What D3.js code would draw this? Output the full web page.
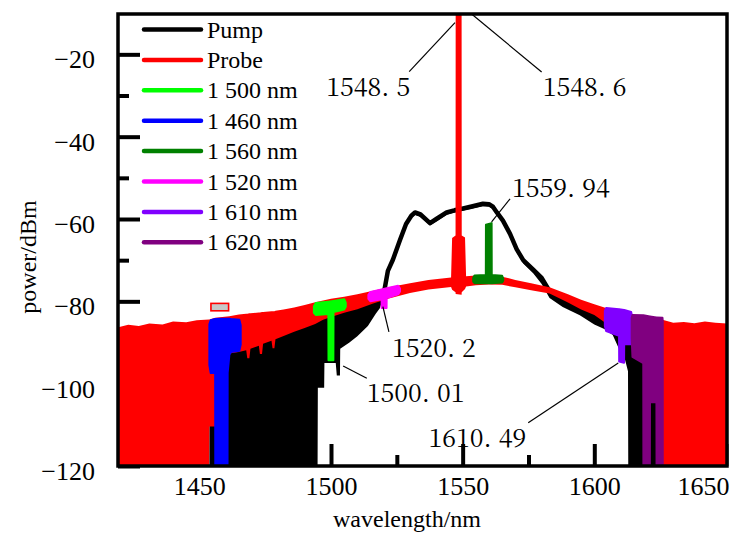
<!DOCTYPE html>
<html>
<head>
<meta charset="utf-8">
<script src="https://cdn.jsdelivr.net/npm/d3@7"></script>
<style>
    body { margin: 0; background: #fff; }
</style>
</head>
<body>
<div id="chart"></div>
<script>
// values: wavelength (nm) / power (dBm)
// each trace is a noisy band, kept as an upper and lower envelope

const pumpWl = [1453.8, 1461.0, 1461.4, 1465, 1470, 1475, 1480.6, 1486, 1490, 1494.9, 1495.0, 1497.4, 1497.5, 1501.8, 1502.2, 1503.4, 1503.5, 1507, 1510, 1514, 1517, 1518.6, 1520.3, 1521.6, 1523.5, 1526.2, 1528.5, 1530.5, 1531.9, 1534, 1537.6, 1540, 1543.9, 1546.8, 1547.3, 1549, 1553, 1557.7, 1560, 1561.5, 1563, 1565.3, 1568, 1570.5, 1573, 1576.8, 1580, 1583, 1588, 1594.5, 1600, 1604, 1607, 1609.7, 1611.6, 1612.8, 1612.9, 1626.0];
const pumpHi = [-102.7, -94.0, -92.0, -91.2, -90.2, -89.2, -87.8, -86.4, -85.4, -84.2, -84.1, -83.6, -83.6, -82.8, -82.7, -82.5, -82.5, -81.8, -81.3, -80.6, -80.2, -79.8, -77.2, -72.6, -69.9, -65.1, -61.2, -59.2, -58.4, -58.9, -61.0, -60.0, -58.4, -57.9, -57.8, -57.6, -57.0, -56.3, -56.4, -57.0, -58.4, -60.4, -63.6, -67.3, -70.0, -72.3, -74.3, -77.5, -79.0, -80.8, -82.2, -83.4, -84.2, -85.0, -86.0, -86.5, -86.5, -87.0];
const pumpLo = [-120, -120, -120, -120, -120, -120, -120, -120, -120, -120, -101, -101, -95, -95, -98, -98, -91.5, -90, -88.5, -86, -83, -81.6, -78.0, -73.4, -70.6, -65.8, -61.8, -59.8, -59.0, -59.5, -61.6, -60.6, -59.0, -58.5, -58.4, -58.2, -57.6, -56.9, -57.0, -57.6, -59.0, -61.0, -64.3, -68.0, -70.8, -73.2, -75.8, -79.2, -81.4, -83.4, -85.6, -86.8, -88.2, -92.0, -94.0, -97.0, -120, -120];

const probeWl = [1419.2, 1423, 1427, 1431, 1436, 1440, 1445, 1449, 1453.7, 1453.8, 1456.0, 1456.05, 1461.4, 1465, 1467.8, 1468.2, 1469.0, 1469.4, 1472.6, 1473.0, 1473.8, 1474.2, 1477.4, 1477.8, 1478.5, 1478.9, 1482, 1486, 1490, 1494, 1497, 1500, 1505, 1510, 1516, 1522, 1530, 1537, 1545.6, 1546.0, 1547.3, 1547.35, 1549.6, 1549.65, 1550.9, 1551.3, 1555, 1560, 1565, 1570, 1576, 1583, 1590, 1595, 1600, 1605.9, 1610, 1615, 1620, 1625.8, 1625.9, 1630, 1634, 1638, 1642, 1646, 1650.5];
const probeHi = [-86.3, -85.7, -86.0, -85.4, -85.6, -84.9, -85.1, -84.6, -84.4, -84.4, -84.0, -84.0, -83.6, -83.2, -83.0, -83.0, -82.9, -82.9, -82.7, -82.7, -82.6, -82.6, -82.4, -82.4, -82.4, -82.3, -82.0, -81.5, -80.9, -80.2, -79.8, -79.4, -78.9, -78.3, -77.4, -76.6, -75.6, -74.8, -74.2, -64.6, -64.0, -8, -8, -64.0, -64.5, -73.9, -73.7, -73.6, -74.0, -74.8, -75.6, -76.6, -78.3, -79.6, -80.7, -81.9, -82.5, -83.2, -83.9, -84.5, -84.5, -85.2, -85.0, -85.3, -84.9, -85.2, -85.4];
const probeLo = [-120, -120, -120, -120, -120, -120, -120, -120, -120, -110.4, -110.4, -91.0, -92.7, -92.3, -91.9, -93.8, -93.8, -91.5, -90.8, -92.8, -92.8, -90.3, -89.6, -91.4, -91.4, -89.2, -88.4, -87.4, -86.5, -85.5, -84.5, -83.8, -82.8, -81.9, -80.5, -79.3, -78.0, -77.1, -76.5, -77.2, -77.8, -78.2, -78.4, -77.8, -77.0, -76.4, -76.1, -75.9, -76.0, -76.6, -77.3, -78.1, -80.3, -82.0, -83.3, -86.0, -86.6, -87.2, -88.0, -88.5, -120, -120, -120, -120, -120, -120, -120];

const ch1460Wl = [1453.8, 1454.3, 1456.0, 1456.05, 1458.2, 1458.25, 1458.7, 1458.75, 1460.7, 1460.75, 1461.4, 1462.0, 1465.2, 1465.7];
const ch1460Hi = [-85.6, -84.6, -84.3, -84.3, -84.2, -84.2, -84.2, -84.2, -84.2, -84.2, -84.2, -84.3, -84.5, -85.8];
const ch1460Lo = [-95.5, -97.4, -97.4, -120, -120, -97.2, -97.2, -120, -120, -97.4, -93.0, -92.3, -92.0, -90.5];

const ch1500Wl = [1493.5, 1494.2, 1499.0, 1499.05, 1500.9, 1500.95, 1505.0, 1505.6];
const ch1500Hi = [-81.2, -80.4, -80.1, -80.1, -79.9, -79.9, -79.5, -80.3];
const ch1500Lo = [-82.8, -83.3, -83.1, -94.3, -94.3, -82.6, -82.0, -81.3];

const ch1520Wl = [1514.2, 1515.0, 1519.2, 1519.25, 1521.1, 1521.15, 1525.5, 1526.2];
const ch1520Hi = [-78.4, -77.7, -77.1, -77.1, -76.8, -76.8, -76.2, -76.9];
const ch1520Lo = [-79.4, -80.0, -79.5, -81.6, -81.6, -79.2, -78.3, -77.6];

const ch1560Wl = [1554.0, 1554.5, 1558.8, 1558.85, 1561.0, 1561.05, 1565.0, 1565.4];
const ch1560Hi = [-74.3, -73.7, -73.6, -61.4, -61.0, -73.6, -73.8, -74.4];
const ch1560Lo = [-75.2, -75.6, -75.6, -75.6, -75.6, -75.6, -75.4, -75.0];

const ch1610Wl = [1604.0, 1604.5, 1609.4, 1609.45, 1611.3, 1611.35, 1614.0, 1614.2];
const ch1610Hi = [-82.3, -81.6, -81.9, -81.9, -82.1, -82.1, -82.6, -83.2];
const ch1610Lo = [-86.0, -87.2, -88.4, -94.6, -94.9, -90.4, -90.4, -89.0];

const ch1620Wl = [1614.2, 1614.5, 1618.6, 1618.65, 1621.1, 1621.15, 1623.6, 1623.65, 1625.9, 1626.0];
const ch1620Hi = [-84.0, -83.3, -83.4, -83.4, -83.7, -83.7, -83.9, -83.9, -84.0, -84.8];
const ch1620Lo = [-89.0, -93.5, -95.0, -120, -120, -104.5, -104.5, -120, -120, -120];

const legendNames = ["Pump", "Probe", "1 500 nm", "1 460 nm", "1 560 nm", "1 520 nm", "1 610 nm", "1 620 nm"];
const legendColors = ["#000000", "#ff0000", "#00ff00", "#0000ff", "#008000", "#ff00ff", "#8000ff", "#800080"];

const xTicks = [1450, 1500, 1550, 1600, 1650];
const xMinor = [1425, 1475, 1525, 1575, 1625];
const yTicks = [-120, -100, -80, -60, -40, -20];
const yMinor = [-110, -90, -70, -50, -30];

// peak labels: text, tip of leader [nm, dBm], other end of leader [nm, dBm]
const annoLabels = ["1548.5", "1548.6", "1559.94", "1520.2", "1500.01", "1610.49"];
const annoTip = [[1547.1, -12.3], [1553.4, -10.2], [1561.0, -60.7], [1519.7, -81.3], [1504.6, -95.7], [1609.1, -95.0]];
const annoEnd = [[1529.7, -24.2], [1580.0, -24.3], [1568.0, -55.1], [1522.0, -87.4], [1513.6, -98.7], [1574.9, -109.5]];

// small boxed marker near 1458 nm
const boxWl = [1454.4, 1461.1];
const boxDb = [-80.5, -82.3];


const width = 734;
const height = 533;
const margin = { top: 14, right: 7, bottom: 67, left: 118 };
const serif = "'Liberation Serif'";
const cjkSerif = "'Noto Serif CJK SC'";

const x = d3.scaleLinear()
    .domain([1419.1, 1650.4])
    .range([margin.left, width - margin.right]);

const y = d3.scaleLinear()
    .domain([-120, -10.2])
    .range([height - margin.bottom, margin.top]);

const svg = d3.select("#chart")
    .append("svg")
    .attr("width", width)
    .attr("height", height);

svg.append("clipPath")
    .attr("id", "plot-clip")
    .append("rect")
    .attr("x", margin.left)
    .attr("y", margin.top)
    .attr("width", width - margin.left - margin.right)
    .attr("height", height - margin.top - margin.bottom);

function label(sel, size, family) {
    return sel.style("font-family", family || serif)
        .style("font-size", size + "px")
        .attr("fill", "#000");
}

// ticks point inward and sit under the traces
function drawAxes() {
    const bottom = svg.append("g")
        .attr("transform", `translate(0,${height - margin.bottom})`)
        .call(d3.axisBottom(x).tickValues(xTicks).tickFormat(d3.format("d")).tickSize(-22).tickPadding(11));
    label(bottom.selectAll("text"), 26);
    bottom.selectAll(".tick:last-of-type text").attr("text-anchor", "end").attr("x", 3);

    svg.append("g")
        .attr("transform", `translate(0,${height - margin.bottom})`)
        .call(d3.axisBottom(x).tickValues(xMinor).tickSize(-11).tickFormat(""));

    const left = svg.append("g")
        .attr("transform", `translate(${margin.left},0)`)
        .call(d3.axisLeft(y).tickValues(yTicks).tickFormat(d3.format("d")).tickSize(-22).tickPadding(23));
    label(left.selectAll("text"), 26).attr("dy", "0.52em");

    svg.append("g")
        .attr("transform", `translate(${margin.left},0)`)
        .call(d3.axisLeft(y).tickValues(yMinor).tickSize(-11).tickFormat(""));

    svg.selectAll(".domain").remove();
    svg.selectAll(".tick line").attr("stroke", "#000").attr("stroke-width", 4);
}

function drawBand(layer, wl, hi, lo, color, outline) {
    const rows = d3.zip(wl, hi, lo);
    const area = d3.area()
        .x(d => x(d[0]))
        .y0(d => y(d[2]))
        .y1(d => y(d[1]));
    layer.append("path")
        .datum(rows)
        .attr("d", area)
        .attr("fill", color)
        .attr("stroke", outline ? color : "none")
        .attr("stroke-width", outline)
        .attr("stroke-linejoin", "round");
}

drawAxes();

const plot = svg.append("g").attr("clip-path", "url(#plot-clip)");

drawBand(plot, pumpWl, pumpHi, pumpLo, "#000", 0);
plot.append("path")
    .datum(d3.zip(pumpWl, pumpHi))
    .attr("d", d3.line().x(d => x(d[0])).y(d => y(d[1])))
    .attr("fill", "none")
    .attr("stroke", "#000")
    .attr("stroke-width", 4.5)
    .attr("stroke-linejoin", "round");

drawBand(plot, probeWl, probeHi, probeLo, "#ff0000", 0);

drawBand(plot, ch1460Wl, ch1460Hi, ch1460Lo, "#0000ff", 2);
drawBand(plot, ch1500Wl, ch1500Hi, ch1500Lo, "#00ff00", 2);
drawBand(plot, ch1520Wl, ch1520Hi, ch1520Lo, "#ff00ff", 2);
drawBand(plot, ch1560Wl, ch1560Hi, ch1560Lo, "#008000", 2);
drawBand(plot, ch1610Wl, ch1610Hi, ch1610Lo, "#8000ff", 2);
drawBand(plot, ch1620Wl, ch1620Hi, ch1620Lo, "#800080", 2);

plot.append("rect")
    .attr("x", x(boxWl[0]))
    .attr("y", y(boxDb[0]))
    .attr("width", x(boxWl[1]) - x(boxWl[0]))
    .attr("height", y(boxDb[1]) - y(boxDb[0]))
    .attr("fill", "#c8c8c8")
    .attr("stroke", "#ff0000")
    .attr("stroke-width", 1.6);

// frame
svg.append("rect")
    .attr("x", margin.left)
    .attr("y", margin.top)
    .attr("width", width - margin.left - margin.right)
    .attr("height", height - margin.top - margin.bottom)
    .attr("fill", "none")
    .attr("stroke", "#000")
    .attr("stroke-width", 3.5);

// peak annotations
const textShift = [[1, 24, "end"], [1, 24, "start"], [2, -2, "start"], [3, 25, "start"], [0, 24, "start"], [-2, 24, "end"]];
annoLabels.forEach((name, i) => {
    const [x0, y0] = [x(annoTip[i][0]), y(annoTip[i][1])];
    const [x1, y1] = [x(annoEnd[i][0]), y(annoEnd[i][1])];
    svg.append("line")
        .attr("x1", x0).attr("y1", y0)
        .attr("x2", x1).attr("y2", y1)
        .attr("stroke", "#000")
        .attr("stroke-width", 1.2);

    const [dx, dy, anchor] = textShift[i];
    const parts = name.split(".");
    const t = label(svg.append("text"), 25, cjkSerif)
        .attr("x", x1 + dx)
        .attr("y", y1 + dy)
        .attr("text-anchor", anchor);
    t.append("tspan").text(parts[0] + ".");
    t.append("tspan").attr("dx", 7).text(parts[1]);
});

// legend
const legend = svg.append("g");
legendNames.forEach((name, i) => {
    const ly = 29.5 + i * 30.4;
    legend.append("line")
        .attr("x1", 144).attr("x2", 201)
        .attr("y1", ly).attr("y2", ly)
        .attr("stroke", legendColors[i])
        .attr("stroke-width", 4.5)
        .attr("stroke-linecap", "round");
    label(legend.append("text"), 24)
        .attr("x", 207)
        .attr("y", ly + 8)
        .text(name);
});

label(svg.append("text"), 24)
    .attr("x", 407)
    .attr("y", 527)
    .attr("text-anchor", "middle")
    .text("wavelength/nm");

label(svg.append("text"), 24)
    .attr("transform", "translate(36,257) rotate(-90)")
    .attr("text-anchor", "middle")
    .text("power/dBm");
</script>
</body>
</html>
